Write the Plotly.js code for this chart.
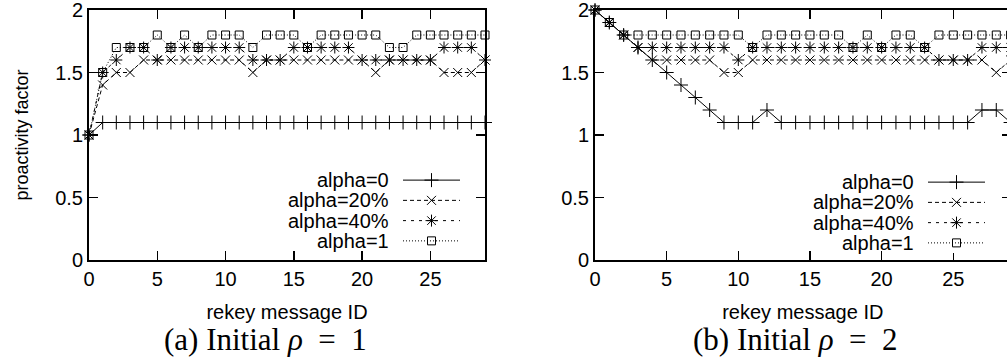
<!DOCTYPE html>
<html>
<head>
<meta charset="utf-8">
<script src="https://cdn.plot.ly/plotly-3.0.1.min.js"></script>
<style>
html, body { margin: 0; padding: 0; overflow: hidden; background: #fff; }
#chart { width: 1012px; height: 362px; }
</style>
</head>
<body>
<div id="chart"></div>
<script>
// ---- data ----
const messageIds = [0,1,2,3,4,5,6,7,8,9,10,11,12,13,14,15,16,17,18,19,20,21,22,23,24,25,26,27,28,29];
const seriesNames = ["alpha=0", "alpha=20%", "alpha=40%", "alpha=1"];

// (a) Initial rho = 1
const rho1_alpha0  = [1,1.1,1.1,1.1,1.1,1.1,1.1,1.1,1.1,1.1,1.1,1.1,1.1,1.1,1.1,1.1,1.1,1.1,1.1,1.1,1.1,1.1,1.1,1.1,1.1,1.1,1.1,1.1,1.1,1.1];
const rho1_alpha20 = [1,1.4,1.5,1.5,1.6,1.6,1.6,1.6,1.6,1.6,1.6,1.6,1.5,1.6,1.6,1.6,1.6,1.6,1.6,1.6,1.6,1.5,1.6,1.6,1.6,1.6,1.5,1.5,1.5,1.6];
const rho1_alpha40 = [1,1.5,1.6,1.7,1.7,1.6,1.7,1.7,1.7,1.7,1.7,1.7,1.6,1.6,1.6,1.7,1.7,1.7,1.7,1.7,1.6,1.6,1.6,1.6,1.6,1.6,1.7,1.7,1.7,1.6];
const rho1_alpha1  = [1,1.5,1.7,1.7,1.7,1.8,1.7,1.8,1.7,1.8,1.8,1.8,1.7,1.8,1.8,1.8,1.7,1.8,1.8,1.8,1.8,1.8,1.7,1.7,1.8,1.8,1.8,1.8,1.8,1.8];

// (b) Initial rho = 2
const rho2_alpha0  = [2,1.9,1.8,1.7,1.6,1.5,1.4,1.3,1.2,1.1,1.1,1.1,1.2,1.1,1.1,1.1,1.1,1.1,1.1,1.1,1.1,1.1,1.1,1.1,1.1,1.1,1.1,1.2,1.2,1.1];
const rho2_alpha20 = [2,1.9,1.8,1.7,1.6,1.6,1.6,1.6,1.6,1.5,1.5,1.6,1.6,1.6,1.6,1.6,1.6,1.6,1.6,1.6,1.6,1.6,1.6,1.6,1.6,1.6,1.6,1.6,1.5,1.6];
const rho2_alpha40 = [2,1.9,1.8,1.7,1.7,1.7,1.7,1.7,1.7,1.7,1.6,1.7,1.7,1.7,1.7,1.7,1.7,1.7,1.7,1.7,1.7,1.7,1.7,1.7,1.6,1.6,1.6,1.7,1.7,1.7];
const rho2_alpha1  = [2,1.9,1.8,1.8,1.8,1.8,1.8,1.8,1.8,1.8,1.8,1.7,1.8,1.8,1.8,1.8,1.8,1.8,1.7,1.8,1.7,1.8,1.8,1.7,1.8,1.8,1.8,1.8,1.8,1.8];

const xTickVals = [0,5,10,15,20,25];
const yTickVals = [0,0.5,1,1.5,2];
const yTickText = ["0","0.5","1","1.5","2"];
const captions = ["(a)&nbsp;Initial&nbsp;<i>ρ</i>&nbsp;&nbsp;=&nbsp;&nbsp;1", "(b)&nbsp;Initial&nbsp;<i>ρ</i>&nbsp;&nbsp;=&nbsp;&nbsp;2"];
const xTitle = "rekey message ID";
const yTitle = "proactivity factor";

// ---- styles ----
const W = 1012, H = 362;
const styles = [
  {dash: "solid",     symbol: "cross-thin-open",  size: 10},
  {dash: "4px,3px",   symbol: "x-thin-open",      size: 9},
  {dash: "3px,5px",   symbol: "asterisk-open",    size: 10},
  {dash: "1px,2px",   symbol: "square-open",      size: 8}
];
const FONT = "'Liberation Sans', Arial, Helvetica, sans-serif";
const SERIF = "'Liberation Serif', 'Times New Roman', serif";

function px2x(p) { return p / W; }
function px2y(p) { return 1 - p / H; }

const panels = [
  {series: [rho1_alpha0, rho1_alpha20, rho1_alpha40, rho1_alpha1], xa: "x", ya: "y"},
  {series: [rho2_alpha0, rho2_alpha20, rho2_alpha40, rho2_alpha1], xa: "x2", ya: "y2"}
];

const traces = [];
panels.forEach(p => {
  p.series.forEach((ys, i) => {
    traces.push({
      x: messageIds, y: ys, xaxis: p.xa, yaxis: p.ya,
      type: "scatter", mode: "lines+markers", name: seriesNames[i],
      showlegend: false, cliponaxis: false, hoverinfo: "skip",
      line: {color: "black", width: 1, dash: styles[i].dash},
      marker: {symbol: styles[i].symbol, size: styles[i].size, color: "black",
               line: {color: "black", width: 1}}
    });
  });
});

// custom gnuplot-style legends (text left, sample right)
const legendBoxes = [
  {xa: "x3", ya: "y3", textR: 390, top: 170, bottom: 251},
  {xa: "x4", ya: "y4", textR: 915, top: 172, bottom: 253}
];
const annotations = [];
legendBoxes.forEach(lb => {
  seriesNames.forEach((nm, i) => {
    const row = 3 - i;
    traces.push({
      x: [0, 0.5, 1], y: [row, row, row], xaxis: lb.xa, yaxis: lb.ya,
      type: "scatter", mode: "lines+markers", showlegend: false, cliponaxis: false,
      hoverinfo: "skip",
      line: {color: "black", width: 1, dash: styles[i].dash},
      marker: {symbol: styles[i].symbol, size: styles[i].size, color: "black",
               opacity: [0, 1, 0], line: {color: "black", width: 1}}
    });
    const rowPx = lb.top + (lb.bottom - lb.top) * (0.5 + i) / 4;
    annotations.push({
      xref: "paper", yref: "paper", x: px2x(lb.textR), y: px2y(rowPx),
      xanchor: "right", yanchor: "middle", text: nm, showarrow: false,
      borderpad: 0, font: {family: FONT, size: 20, color: "black"}
    });
  });
});

annotations.push({xref: "paper", yref: "paper", x: px2x(265), y: px2y(339),
  xanchor: "center", yanchor: "middle", text: captions[0], showarrow: false,
  borderpad: 0, font: {family: SERIF, size: 31, color: "black"}});
annotations.push({xref: "paper", yref: "paper", x: px2x(795), y: px2y(339),
  xanchor: "center", yanchor: "middle", text: captions[1], showarrow: false,
  borderpad: 0, font: {family: SERIF, size: 31, color: "black"}});

const yDom = [px2y(260), px2y(10)];
function xAxis(dom) {
  return {
    domain: dom, range: [0, 29], tickvals: xTickVals, ticktext: xTickVals.map(String),
    ticks: "inside", ticklen: 9, tickwidth: 1.5, tickcolor: "black",
    showline: true, linewidth: 2, linecolor: "black", mirror: "ticks",
    showgrid: false, zeroline: false, fixedrange: true, ticklabeloverflow: "allow",
    tickfont: {family: FONT, size: 20, color: "black"},
    title: {text: xTitle, font: {family: FONT, size: 20, color: "black"}, standoff: 16}
  };
}
function yAxis(anchor, withTitle) {
  const a = {
    domain: yDom, range: [0, 2], tickvals: yTickVals, ticktext: yTickText, anchor: anchor,
    ticks: "inside", ticklen: 9, tickwidth: 1.5, tickcolor: "black",
    showline: true, linewidth: 2, linecolor: "black", mirror: "ticks",
    showgrid: false, zeroline: false, fixedrange: true, ticklabeloverflow: "allow",
    tickfont: {family: FONT, size: 20, color: "black"}
  };
  if (withTitle) a.title = {text: yTitle, font: {family: FONT, size: 18, color: "black"}, standoff: 22};
  return a;
}

const layout = {
  width: W, height: H, margin: {l: 0, r: 0, t: 0, b: 0},
  paper_bgcolor: "white", plot_bgcolor: "white", showlegend: false,
  xaxis: Object.assign(xAxis([px2x(89), px2x(485)]), {anchor: "y"}),
  yaxis: yAxis("x", true),
  xaxis2: Object.assign(xAxis([px2x(595), px2x(1010.6)]), {anchor: "y2"}),
  yaxis2: yAxis("x2", false),
  xaxis3: {domain: [px2x(403), px2x(460)], range: [0, 1], visible: false, anchor: "y3", fixedrange: true},
  yaxis3: {domain: [px2y(251), px2y(170)], range: [-0.5, 3.5], visible: false, anchor: "x3", fixedrange: true},
  xaxis4: {domain: [px2x(928), px2x(985)], range: [0, 1], visible: false, anchor: "y4", fixedrange: true},
  yaxis4: {domain: [px2y(253), px2y(172)], range: [-0.5, 3.5], visible: false, anchor: "x4", fixedrange: true},
  annotations: annotations
};

Plotly.newPlot("chart", traces, layout, {staticPlot: true, displayModeBar: false});
</script>
</body>
</html>
